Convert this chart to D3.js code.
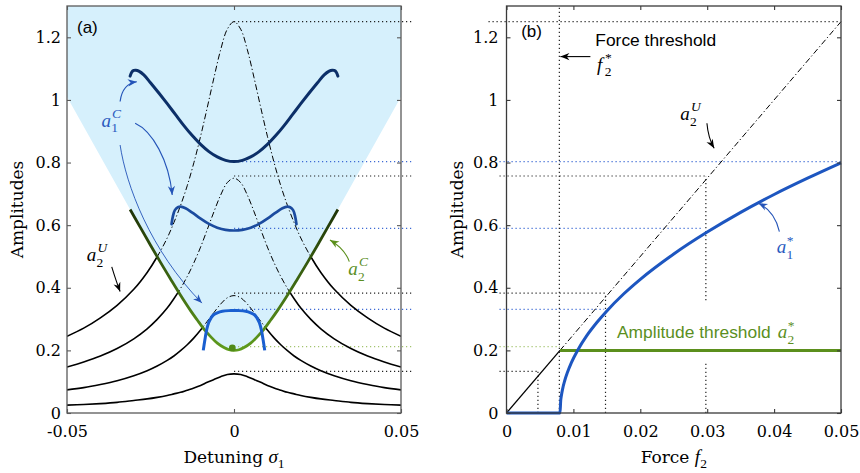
<!DOCTYPE html>
<html><head><meta charset="utf-8">
<script src="https://cdn.jsdelivr.net/npm/d3@7"></script>
<style>body{margin:0;background:#fff} svg{display:block}</style>
</head><body>
<svg id="c" width="860" height="473"></svg>
<script>
// ---------------- DATA ----------------
// Panel (a): detuning grid for the uncoupled responses a2^U
const detuning = [-0.05,-0.045,-0.04,-0.035,-0.03,-0.026,-0.023,-0.02,-0.018,-0.016,-0.014,-0.012,-0.01,-0.008,-0.006,-0.004,-0.002,0,0.002,0.004,0.006,0.008,0.01,0.012,0.014,0.016,0.018,0.02,0.023,0.026,0.03,0.035,0.04,0.045,0.05];
const a2U_f1 = [0.025,0.027,0.030,0.034,0.040,0.045,0.050,0.056,0.061,0.066,0.073,0.080,0.088,0.098,0.107,0.116,0.123,0.125,0.123,0.116,0.107,0.098,0.088,0.080,0.073,0.066,0.061,0.056,0.050,0.045,0.040,0.034,0.030,0.027,0.025];
const a2U_f2 = [0.074,0.081,0.091,0.103,0.119,0.135,0.150,0.168,0.182,0.199,0.218,0.240,0.265,0.293,0.321,0.348,0.368,0.375,0.368,0.348,0.321,0.293,0.265,0.240,0.218,0.199,0.182,0.168,0.150,0.135,0.119,0.103,0.091,0.081,0.074];
const a2U_f3 = [0.147,0.163,0.182,0.206,0.237,0.269,0.299,0.335,0.365,0.398,0.436,0.480,0.530,0.586,0.643,0.696,0.736,0.750,0.736,0.696,0.643,0.586,0.530,0.480,0.436,0.398,0.365,0.335,0.299,0.269,0.237,0.206,0.182,0.163,0.147];
const a2U_f4 = [0.245,0.271,0.304,0.344,0.395,0.449,0.499,0.559,0.608,0.663,0.726,0.800,0.884,0.976,1.071,1.160,1.226,1.250,1.226,1.160,1.071,0.976,0.884,0.800,0.726,0.663,0.608,0.559,0.499,0.449,0.395,0.344,0.304,0.271,0.245];

// coupled curve a2^C (boundary of the shaded region)
const a2C_sigma = [-0.0311,-0.028,-0.025,-0.022,-0.019,-0.016,-0.013,-0.011,-0.009,-0.007,-0.005,-0.003,-0.0015,0,0.0015,0.003,0.005,0.007,0.009,0.011,0.013,0.016,0.019,0.022,0.025,0.028,0.0311];
const a2C_amp   = [0.650,0.592,0.536,0.481,0.428,0.376,0.327,0.297,0.268,0.244,0.223,0.209,0.202,0.200,0.202,0.209,0.223,0.244,0.268,0.297,0.327,0.376,0.428,0.481,0.536,0.592,0.650];
const regionEdgeAmp = 1.01;        // shaded region at sigma = +-0.05
const a2C_dot = [-0.0005, 0.208];

// coupled curves a1^C for the three higher forcings
const a1C_hi_sigma = [-0.0311,-0.0306,-0.0300,-0.0294,-0.0285,-0.027,-0.025,-0.0225,-0.020,-0.0175,-0.015,-0.0125,-0.010,-0.0075,-0.005,-0.0025,0,0.0025,0.005,0.0075,0.010,0.0125,0.015,0.0175,0.020,0.0225,0.025,0.027,0.0285,0.0294,0.0300,0.0306,0.0311];
const a1C_hi_amp   = [1.076,1.089,1.094,1.095,1.092,1.080,1.055,1.022,0.988,0.953,0.918,0.886,0.858,0.835,0.818,0.807,0.803,0.807,0.818,0.835,0.858,0.886,0.918,0.953,0.988,1.022,1.055,1.080,1.092,1.095,1.094,1.089,1.076];
const a1C_mid_sigma = [-0.0187,-0.0183,-0.0177,-0.0168,-0.0160,-0.0145,-0.0125,-0.010,-0.0075,-0.005,-0.0025,0,0.0025,0.005,0.0075,0.010,0.0125,0.0145,0.0160,0.0168,0.0177,0.0183,0.0187];
const a1C_mid_amp   = [0.603,0.628,0.648,0.657,0.659,0.654,0.640,0.621,0.604,0.592,0.585,0.583,0.585,0.592,0.604,0.621,0.640,0.654,0.659,0.657,0.648,0.628,0.603];
const a1C_low_sigma = [-0.0092,-0.0087,-0.0082,-0.0076,-0.0069,-0.0062,-0.005,-0.0035,-0.0015,0,0.0015,0.0035,0.005,0.0062,0.0069,0.0076,0.0082,0.0087,0.0092];
const a1C_low_amp   = [0.200,0.235,0.265,0.288,0.303,0.313,0.320,0.325,0.327,0.327,0.327,0.325,0.320,0.313,0.303,0.288,0.265,0.235,0.200];

// guide levels (dotted) shared by both panels
const guideLevels   = [1.25, 0.803, 0.757, 0.590, 0.383, 0.331, 0.212, 0.133];
const guideKinds    = ['k','b','k','b','k','b','g','k'];
const guideForceEnd = [0.0496, 0.05, 0.0298, 0.0294, 0.0150, 0.0146, 0.0080, 0.0047];

// Panel (b)
const forceStar = 0.0079;
const a2U_lin_force = [0, 0.008, 0.05];
const a2U_lin_amp   = [0, 0.2, 1.25];
const a2Star_force  = [0.008, 0.05];
const a2Star_amp    = [0.2, 0.2];
const a1Star_force  = [0, 0.008, 0.0081, 0.0082, 0.0084, 0.0087, 0.0091, 0.0097, 0.0106, 0.012, 0.0135, 0.015, 0.0175, 0.02, 0.025, 0.03, 0.035, 0.04, 0.045, 0.05];
const a1Star_amp    = [0, 0, 0.039, 0.055, 0.078, 0.103, 0.129, 0.161, 0.199, 0.247, 0.289, 0.326, 0.380, 0.427, 0.508, 0.578, 0.641, 0.698, 0.750, 0.799];
const vGuideForce = [0.0047, 0.0148, 0.0298];
const vGuideTop   = [0.133, 0.383, 0.757];
const vGuideGap   = [null, null, [0.165, 0.36]];

// ticks
const yTicks  = [0, 0.2, 0.4, 0.6, 0.8, 1, 1.2];
const xTicksA = [-0.05, 0, 0.05];
const xTicksB = [0, 0.01, 0.02, 0.03, 0.04, 0.05];

// ---------------- DRAWING ----------------
const svg = d3.select('#c');
const defs = svg.append('defs');
const yS = d3.scaleLinear().domain([0, 1.3]).range([413, 6]);
const xA = d3.scaleLinear().domain([-0.05, 0.05]).range([67, 401]);
const xB = d3.scaleLinear().domain([0, 0.05]).range([506.5, 841]);

const C = {
  fill:'#d6f0fc', blueTop:'#0c2f68', blueMid:'#1b4b9f', blueLow:'#1a5fd0',
  blue:'#1d56c0', blueTxt:'#2a5bbf', green:'#5b8f1c', greenTxt:'#5b8f1f',
  dotK:'#222', dotB:'#3d6ad4', dotG:'#a3c46e'
};
const dotColor = k => k==='k'?C.dotK:(k==='b'?C.dotB:C.dotG);

function marker(id, color){
  defs.append('marker').attr('id',id).attr('viewBox','-10 -5 12 10')
    .attr('refX',0).attr('refY',0).attr('markerWidth',12).attr('markerHeight',10)
    .attr('markerUnits','userSpaceOnUse').attr('orient','auto')
    .append('path').attr('d','M0,0 L-9,-3.6 L-6.3,0 L-9,3.6 Z').attr('fill',color);
}
marker('mB', '#2454b8'); marker('mK', '#000'); marker('mG', C.green);

const pts = (xs, ys, X) => xs.map((x,i)=>[X(x), yS(ys[i])]);
const lineCR = d3.line().curve(d3.curveCatmullRom);
const lineLin = d3.line();

// green gradient (dark at top, brighter near the minimum)
const grad = defs.append('linearGradient').attr('id','gGrad').attr('gradientUnits','userSpaceOnUse')
  .attr('x1',0).attr('x2',0).attr('y1',yS(0.65)).attr('y2',yS(0.2));
grad.append('stop').attr('offset',0).attr('stop-color','#1f3407');
grad.append('stop').attr('offset',0.5).attr('stop-color','#3c6511');
grad.append('stop').attr('offset',1).attr('stop-color','#5f9c1d');

// ---- Panel (a)
const gA = svg.append('g');
const [ax0, ax1] = xA.range(), [ayB, ayT] = yS.range();
const greenPts = pts(a2C_sigma, a2C_amp, xA);
const gRev = lineCR(greenPts.slice().reverse());
const regionD = `M${ax0},${ayT}L${ax1},${ayT}L${ax1},${yS(regionEdgeAmp)}` + gRev.replace(/^M/,'L') + `L${ax0},${yS(regionEdgeAmp)}Z`;
defs.append('clipPath').attr('id','clipIn').append('path').attr('d', regionD);
defs.append('clipPath').attr('id','clipOut').append('path')
  .attr('d', `M${ax0},${ayT}H${ax1}V${ayB}H${ax0}Z` + regionD).attr('clip-rule','evenodd');

gA.append('path').attr('d', regionD).attr('fill', C.fill);

// dotted guides (a)
guideLevels.forEach((lv,i)=>{
  gA.append('line').attr('x1',xA(0)).attr('x2',ax1+11).attr('y1',yS(lv)).attr('y2',yS(lv))
    .attr('stroke',dotColor(guideKinds[i])).attr('stroke-width',1.2).attr('stroke-dasharray','1.2,2.8');
});

// uncoupled responses: solid outside region, dash-dot inside
[a2U_f1, a2U_f2, a2U_f3, a2U_f4].forEach(arr=>{
  const d = lineCR(pts(detuning, arr, xA));
  gA.append('path').attr('d',d).attr('fill','none').attr('stroke','#000').attr('stroke-width',1.6).attr('clip-path','url(#clipOut)');
  gA.append('path').attr('d',d).attr('fill','none').attr('stroke','#000').attr('stroke-width',1).attr('stroke-dasharray','6,2.5,1.2,2.5').attr('clip-path','url(#clipIn)');
});

// a2^C
gA.append('path').attr('d', lineCR(greenPts)).attr('fill','none').attr('stroke','url(#gGrad)').attr('stroke-width',2.8);

// a1^C curves
gA.append('path').attr('d', lineCR(pts(a1C_hi_sigma, a1C_hi_amp, xA))).attr('fill','none').attr('stroke',C.blueTop).attr('stroke-width',3).attr('stroke-linecap','round');
gA.append('path').attr('d', lineCR(pts(a1C_mid_sigma, a1C_mid_amp, xA))).attr('fill','none').attr('stroke',C.blueMid).attr('stroke-width',2.7).attr('stroke-linecap','round');
gA.append('path').attr('d', lineCR(pts(a1C_low_sigma, a1C_low_amp, xA))).attr('fill','none').attr('stroke',C.blueLow).attr('stroke-width',3);
gA.append('circle').attr('cx',xA(a2C_dot[0])).attr('cy',yS(a2C_dot[1])).attr('r',3.4).attr('fill','#4f8a17');

// ---- helpers for text
function mathLabel(g, x, y, base, sub, sup, color, size=19, extra=0){
  const t = g.append('text').attr('x',x).attr('y',y).attr('fill',color)
    .style('font-family','Liberation Serif').style('font-style','italic').style('font-size',size+'px').text(base);
  const w = t.node().getComputedTextLength() + extra;
  const ss = 13.5;
  const s = g.append('text').attr('x',x+w+0.3).attr('y',y+5.8).attr('fill',color)
    .style('font-family','Liberation Serif').style('font-size',ss+'px');
  const subSpan = s.append('tspan').text(sub);
  const sw = subSpan.node().getComputedTextLength();
  const star = sup==='*';
  s.append('tspan').attr('dx', -sw + (star?0.2:0.9)).attr('dy', star ? -14.3 : -14.5)
    .style('font-style', star?'normal':'italic').style('font-size',(star?13.5:ss)+'px').text(sup);
}
function sans(g, x, y, s, color, size){
  return g.append('text').attr('x',x).attr('y',y).attr('fill',color)
    .style('font-family','Liberation Sans').style('font-size',size+'px').text(s);
}
function arrow(g, d, color, mk, w){
  g.append('path').attr('d',d).attr('fill','none').attr('stroke',color).attr('stroke-width',w).attr('marker-end',`url(#${mk})`);
}
const P = (X,x,a)=>`${X(x)},${yS(a)}`;

// annotations (a)
sans(gA, xA(-0.04701), yS(1.214), '(a)', '#000', 17);
mathLabel(gA, xA(-0.0397), yS(0.915), 'a', '1', 'C', C.blueTxt);
arrow(gA, `M${P(xA,-0.0341,0.995)}Q${P(xA,-0.0334,1.052)} ${P(xA,-0.0291,1.058)}`, '#2454b8', 'mB', 1.2);
arrow(gA, `M${P(xA,-0.0296,0.9255)}C${P(xA,-0.02455,0.901)} ${P(xA,-0.01946,0.808)} ${P(xA,-0.0185,0.6965)}`, '#2454b8', 'mB', 1.1);
arrow(gA, `M${P(xA,-0.0341,0.856)}C${P(xA,-0.0323,0.728)} ${P(xA,-0.0252,0.521)} ${P(xA,-0.0096,0.351)}`, '#2454b8', 'mB', 0.9);
mathLabel(gA, xA(-0.0441), yS(0.4856), 'a', '2', 'U', '#000');
arrow(gA, `M${P(xA,-0.0366,0.467)}Q${P(xA,-0.0353,0.4217)} ${P(xA,-0.0341,0.388)}`, '#000', 'mK', 1.1);
mathLabel(gA, xA(0.03422), yS(0.441), 'a', '2', 'C', C.greenTxt);
arrow(gA, `M${P(xA,0.03452,0.4834)}Q${P(xA,0.03323,0.524)} ${P(xA,0.02874,0.5527)}`, C.green, 'mG', 1.1);

// ---- Panel (b)
const gB = svg.append('g');
const [bx0, bx1] = xB.range();
guideLevels.forEach((lv,i)=>{
  gB.append('line').attr('x1', bx0 - (i===0?18:7)).attr('x2', xB(guideForceEnd[i])).attr('y1',yS(lv)).attr('y2',yS(lv))
    .attr('stroke',dotColor(guideKinds[i])).attr('stroke-width',1.2).attr('stroke-dasharray','1.2,2.8');
});
gB.append('line').attr('x1',xB(forceStar)).attr('x2',xB(forceStar)).attr('y1',yS(0)).attr('y2',yS(1.3))
  .attr('stroke',C.dotK).attr('stroke-width',1.2).attr('stroke-dasharray','1.2,2.8');
vGuideForce.forEach((f,i)=>{
  const segs = vGuideGap[i] ? [[0, vGuideGap[i][0]], [vGuideGap[i][1], vGuideTop[i]]] : [[0, vGuideTop[i]]];
  segs.forEach(s=>gB.append('line').attr('x1',xB(f)).attr('x2',xB(f)).attr('y1',yS(s[0])).attr('y2',yS(s[1]))
    .attr('stroke',C.dotK).attr('stroke-width',1.2).attr('stroke-dasharray','1.2,2.8'));
});
const linPts = pts(a2U_lin_force, a2U_lin_amp, xB);
gB.append('path').attr('d', lineLin(linPts.slice(0,2))).attr('fill','none').attr('stroke','#000').attr('stroke-width',1.3);
gB.append('path').attr('d', lineLin(linPts.slice(1))).attr('fill','none').attr('stroke','#000').attr('stroke-width',1).attr('stroke-dasharray','6,2.5,1.2,2.5');
gB.append('path').attr('d', lineLin(pts(a2Star_force, a2Star_amp, xB))).attr('fill','none').attr('stroke',C.green).attr('stroke-width',3);
gB.append('path').attr('d', d3.line().curve(d3.curveMonotoneX)(pts(a1Star_force, a1Star_amp, xB))).attr('fill','none').attr('stroke',C.blue).attr('stroke-width',3);

// annotations (b)
sans(gB, xB(0.00219), yS(1.2003), '(b)', '#000', 17);
sans(gB, xB(0.01328), yS(1.173), 'Force threshold', '#000', 17.4);
mathLabel(gB, xB(0.01354), yS(1.0935), 'f', '2', '*', '#000', 19, 2.2);
arrow(gB, `M${P(xB,0.01254,1.1384)}L${P(xB,0.00806,1.1384)}`, '#000', 'mK', 1.1);
mathLabel(gB, xB(0.02597), yS(0.936), 'a', '2', 'U', '#000');
arrow(gB, `M${P(xB,0.02996,0.9256)}Q${P(xB,0.03015,0.878)} ${P(xB,0.03104,0.8457)}`, '#000', 'mK', 1.1);
mathLabel(gB, xB(0.0404), yS(0.511), 'a', '1', '*', C.blueTxt);
arrow(gB, `M${P(xB,0.04079,0.5792)}Q${P(xB,0.0401,0.645)} ${P(xB,0.03766,0.670)}`, '#2454b8', 'mB', 1.1);
const at = sans(gB, xB(0.01652), yS(0.2387), 'Amplitude threshold', C.greenTxt, 17.4);
mathLabel(gB, xB(0.01652) + at.node().getComputedTextLength() + 7, yS(0.2387), 'a', '2', '*', C.greenTxt);

// ---- axes
function axes(g, X, xt, ypad, color){
  const [x0,x1] = X.range(), [y0,y1] = yS.range();
  g.append('g').attr('transform',`translate(0,${y0})`)
    .call(d3.axisBottom(X).tickValues(xt).tickFormat(d=>String(d)).tickSize(-4).tickSizeOuter(0).tickPadding(13));
  g.append('g').attr('transform',`translate(0,${y1})`)
    .call(d3.axisTop(X).tickValues(xt).tickFormat(()=> '').tickSize(-4).tickSizeOuter(0));
  g.append('g').attr('transform',`translate(${x0},0)`)
    .call(d3.axisLeft(yS).tickValues(yTicks).tickFormat(d=>String(d)).tickSize(-4).tickSizeOuter(0).tickPadding(ypad));
  g.append('g').attr('transform',`translate(${x1},0)`)
    .call(d3.axisRight(yS).tickValues(yTicks).tickFormat(()=> '').tickSize(-4).tickSizeOuter(0));
  g.selectAll('.domain').remove();
  g.selectAll('.tick line').attr('stroke',color).attr('stroke-width',1.1);
  g.selectAll('.tick text').attr('fill','#000').style('font-family','DejaVu Serif').style('font-size','16px');
  g.append('rect').attr('x',x0).attr('y',y1).attr('width',x1-x0).attr('height',y0-y1)
    .attr('fill','none').attr('stroke',color).attr('stroke-width',1.3);
}
axes(svg.append('g'), xA, xTicksA, 6, '#5a5a5a');
axes(svg.append('g'), xB, xTicksB, 8, '#3a3a3a');

// axis titles
function yTitle(x){
  svg.append('text').attr('transform',`translate(${x},${(yS.range()[0]+yS.range()[1])/2}) rotate(-90)`)
    .attr('text-anchor','middle').style('font-family','DejaVu Serif').style('font-size','17px').text('Amplitudes');
}
yTitle(22.5); yTitle(462.5);
function xTitle(cx, word, sym, sub){
  const t = svg.append('text').attr('x',cx).attr('y',463).attr('text-anchor','middle');
  t.append('tspan').style('font-family','DejaVu Serif').style('font-size','17px').text(word + ' ');
  t.append('tspan').style('font-family','Liberation Serif').style('font-style','italic').style('font-size','19px').text(sym);
  t.append('tspan').attr('dy',4.5).style('font-family','Liberation Serif').style('font-size','13.5px').text(sub);
}
xTitle(xA(0), 'Detuning', 'σ', '1');
xTitle((xB.range()[0]+xB.range()[1])/2, 'Force', 'f', '2');
</script>
</body></html>
